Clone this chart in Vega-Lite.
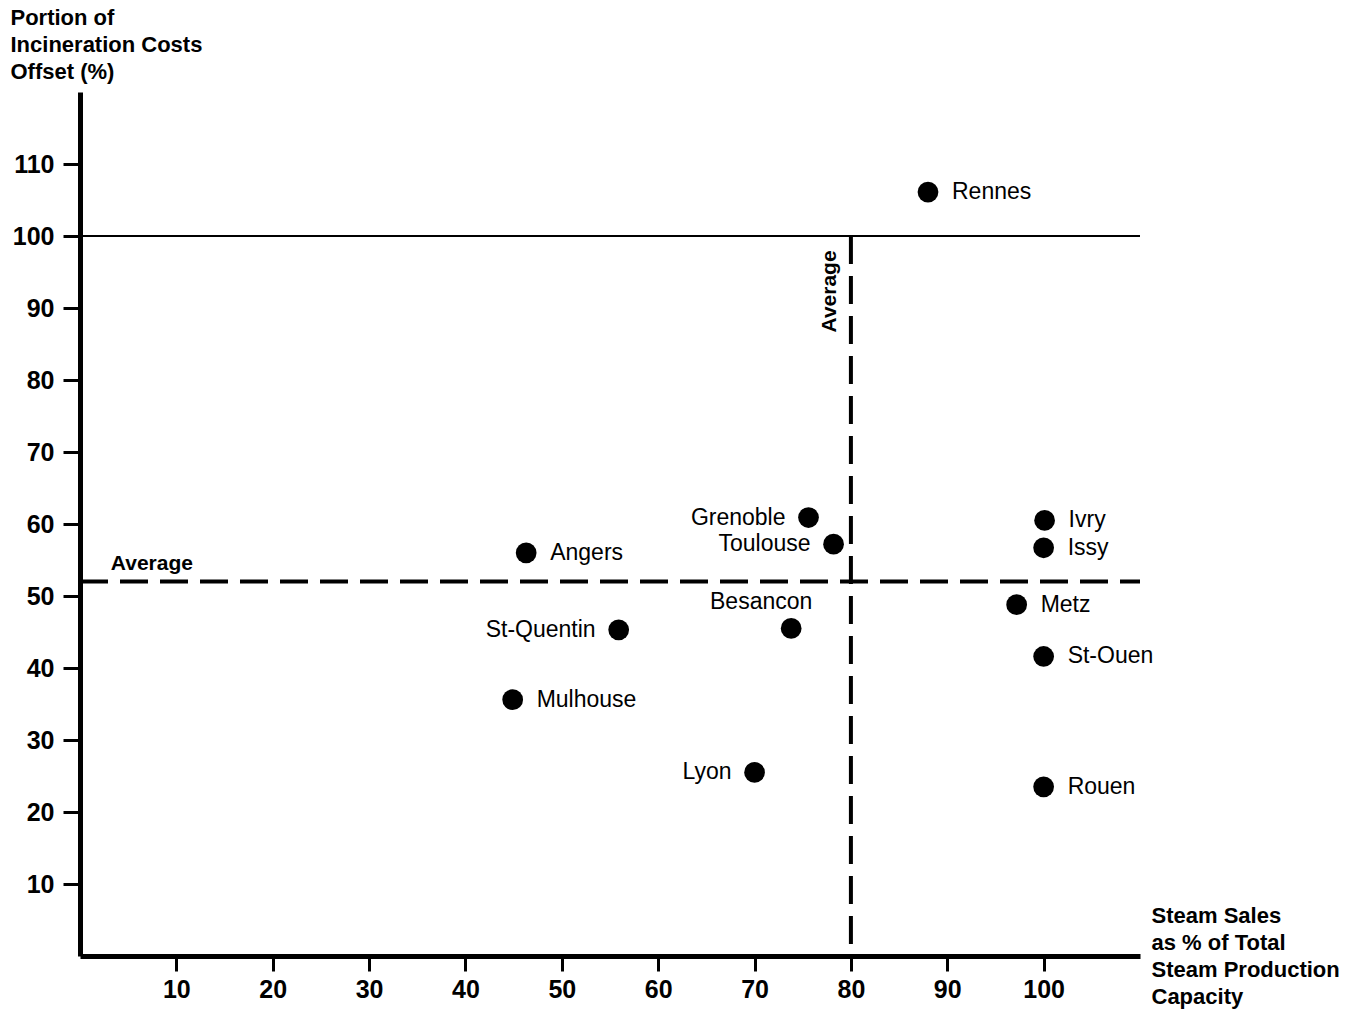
{
  "$schema": "https://vega.github.io/schema/vega-lite/v6.json",
  "width": 1060,
  "height": 864,
  "autosize": {"type": "none"},
  "padding": {"left": 80, "top": 92, "right": 223, "bottom": 60},
  "background": "white",
  "config": {
    "view": {"stroke": null},
    "font": "Liberation Sans",
    "axis": {
      "grid": false,
      "domainColor": "black",
      "domainWidth": 5,
      "tickColor": "black",
      "tickWidth": 3,
      "labelColor": "black",
      "labelFont": "Liberation Sans",
      "labelFontWeight": "bold",
      "labelFontSize": 25,
      "titleFont": "Liberation Sans",
      "titleFontWeight": "bold",
      "titleFontSize": 22,
      "titleColor": "black"
    }
  },
  "data": {
    "values": [
      {"city": "Rennes", "steam": 88.0, "offset": 106.1},
      {"city": "Grenoble", "steam": 75.6, "offset": 60.9},
      {"city": "Toulouse", "steam": 78.2, "offset": 57.2},
      {"city": "Angers", "steam": 46.3, "offset": 56.0},
      {"city": "Ivry", "steam": 100.1, "offset": 60.5},
      {"city": "Issy", "steam": 100.0, "offset": 56.7},
      {"city": "Metz", "steam": 97.2, "offset": 48.8},
      {"city": "St-Ouen", "steam": 100.0, "offset": 41.6},
      {"city": "St-Quentin", "steam": 55.9, "offset": 45.3},
      {"city": "Besancon", "steam": 73.8, "offset": 45.5},
      {"city": "Mulhouse", "steam": 44.9, "offset": 35.6},
      {"city": "Lyon", "steam": 70.0, "offset": 25.5},
      {"city": "Rouen", "steam": 100.0, "offset": 23.5}
    ]
  },
  "encoding": {
    "x": {
      "field": "steam",
      "type": "quantitative",
      "scale": {"domain": [0, 110], "nice": false, "zero": false},
      "axis": {
        "values": [10, 20, 30, 40, 50, 60, 70, 80, 90, 100],
        "tickSize": 15,
        "labelPadding": 6,
        "title": ["Steam Sales", "as % of Total", "Steam Production", "Capacity"],
        "titleAngle": 0,
        "titleAlign": "left",
        "titleBaseline": "top",
        "titleX": 1071,
        "titleY": -51,
        "titleLineHeight": 27
      }
    },
    "y": {
      "field": "offset",
      "type": "quantitative",
      "scale": {"domain": [0, 120], "nice": false, "zero": false},
      "axis": {
        "values": [10, 20, 30, 40, 50, 60, 70, 80, 90, 100, 110],
        "tickSize": 17,
        "labelPadding": 9,
        "title": ["Portion of", "Incineration Costs", "Offset (%)"],
        "titleAngle": 0,
        "titleAlign": "left",
        "titleBaseline": "top",
        "titleX": -70,
        "titleY": -85,
        "titleLineHeight": 27
      }
    }
  },
  "layer": [
    {
      "data": {"values": [{"ref": 100}]},
      "mark": {"type": "rule", "color": "black", "strokeWidth": 2},
      "encoding": {"x": {"value": 0}, "x2": {"value": 1060}, "y": {"field": "ref", "type": "quantitative"}}
    },
    {
      "data": {"values": [{"ref": 52}]},
      "mark": {"type": "rule", "color": "black", "strokeWidth": 4, "strokeDash": [28, 12]},
      "encoding": {"x": {"value": 0}, "x2": {"value": 1060}, "y": {"field": "ref", "type": "quantitative"}}
    },
    {
      "data": {"values": [{"ref": 80, "top": 100, "bottom": 0}]},
      "mark": {"type": "rule", "color": "black", "strokeWidth": 4, "strokeDash": [28, 12]},
      "encoding": {"x": {"field": "ref", "type": "quantitative"}, "y": {"field": "top", "type": "quantitative"}, "y2": {"field": "bottom"}}
    },
    {
      "data": {"values": [{"lx": 3.2, "ly": 52, "label": "Average"}]},
      "mark": {"type": "text", "fontWeight": "bold", "fontSize": 21, "align": "left", "baseline": "bottom", "dy": -8, "color": "black"},
      "encoding": {"x": {"field": "lx", "type": "quantitative"}, "y": {"field": "ly", "type": "quantitative"}, "text": {"field": "label"}}
    },
    {
      "data": {"values": [{"lx": 80, "ly": 92.3, "label": "Average"}]},
      "mark": {"type": "text", "fontWeight": "bold", "fontSize": 21, "align": "center", "baseline": "bottom", "angle": 270, "dy": -11, "color": "black"},
      "encoding": {"x": {"field": "lx", "type": "quantitative"}, "y": {"field": "ly", "type": "quantitative"}, "text": {"field": "label"}}
    },
    {
      "mark": {"type": "point", "filled": true, "shape": "circle", "size": 430, "color": "black", "opacity": 1}
    },
    {
      "transform": [{"filter": {"field": "city", "oneOf": ["Rennes", "Angers", "Ivry", "Issy", "Metz", "St-Ouen", "Mulhouse", "Rouen"]}}],
      "mark": {"type": "text", "align": "left", "baseline": "middle", "dx": 24, "fontSize": 23, "color": "black"},
      "encoding": {"text": {"field": "city"}}
    },
    {
      "transform": [{"filter": {"field": "city", "oneOf": ["Grenoble", "Toulouse", "St-Quentin", "Lyon"]}}],
      "mark": {"type": "text", "align": "right", "baseline": "middle", "dx": -23, "fontSize": 23, "color": "black"},
      "encoding": {"text": {"field": "city"}}
    },
    {
      "transform": [{"filter": {"field": "city", "equal": "Besancon"}}],
      "mark": {"type": "text", "align": "center", "baseline": "bottom", "dx": -30, "dy": -14, "fontSize": 23, "color": "black"},
      "encoding": {"text": {"field": "city"}}
    }
  ]
}
